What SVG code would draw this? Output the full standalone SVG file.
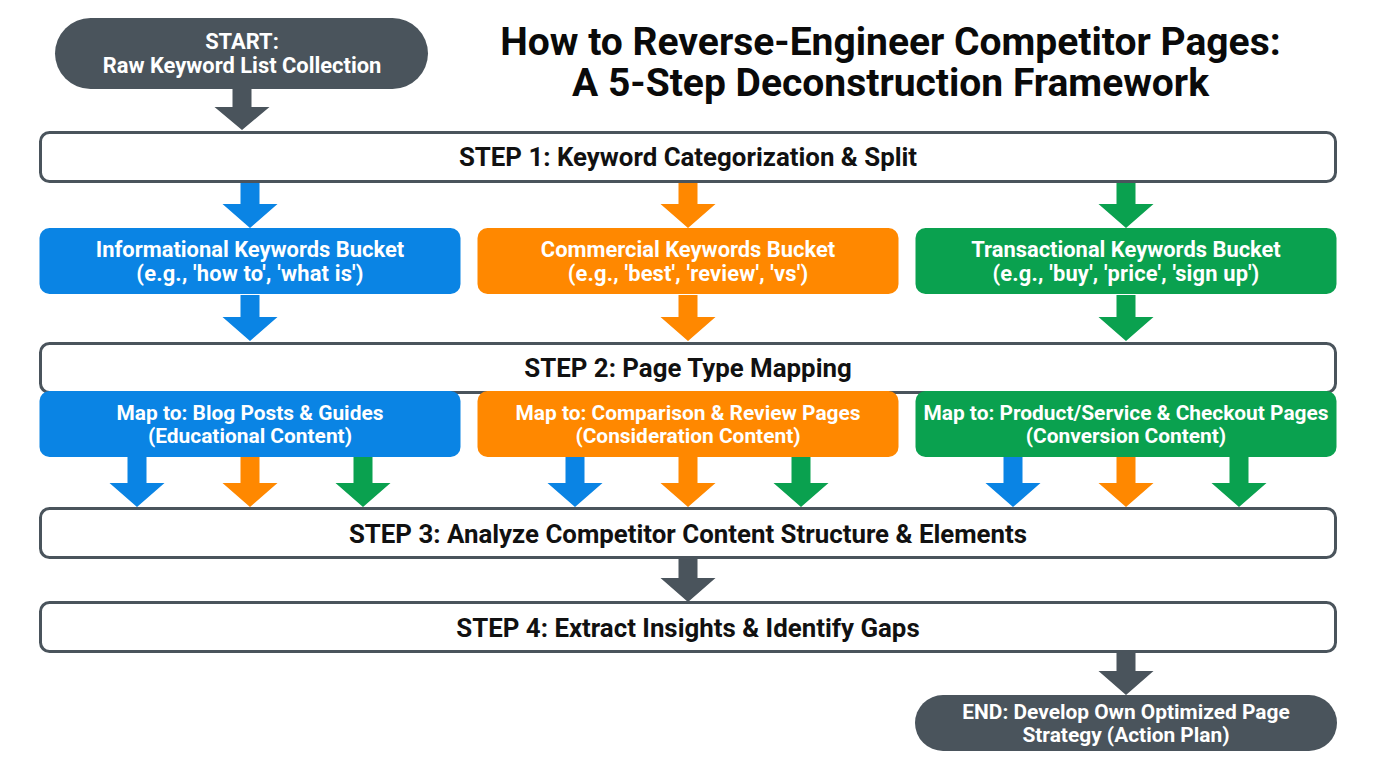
<svg xmlns="http://www.w3.org/2000/svg" width="1376" height="768" viewBox="0 0 1376 768">
<style>
text{font-family:Roboto,"Liberation Sans",sans-serif;text-anchor:middle}
.t{font-size:39px;font-weight:700;fill:#0a0a0a}
.s{font-size:25.850px;font-weight:700;fill:#111}
.w{font-size:21.900px;font-weight:700;fill:#fff}
.q{letter-spacing:.17px}
.m{font-size:20.900px;font-weight:700;fill:#fff}
.step{fill:#fff;stroke:#4a545c;stroke-width:3}
.d{fill:#4a545c}.b{fill:#0a84e4}.o{fill:#ff8800}.g{fill:#0aa14f}
</style>
<defs>
<path id="a46" d="M-9.500 0H9.500V22H27.500L0 46L-27.500 22H-9.500Z"/>
<path id="a42" d="M-9.500 0H9.500V19H27.500L0 42L-27.500 19H-9.500Z"/>
<path id="a50" d="M-9.500 0H9.500V26H27.500L0 50L-27.500 26H-9.500Z"/>
</defs>
<rect width="1376" height="768" fill="#fff"/>
<g id="title"><text class="t" x="890.500" y="55">How to Reverse-Engineer Competitor Pages:</text><text class="t" x="890.500" y="96">A 5-Step Deconstruction Framework</text></g>
<g id="connectors">
<use href="#a42" x="242" y="88" class="d"/>
<use href="#a46" x="250" y="182" class="b"/><use href="#a46" x="688" y="182" class="o"/><use href="#a46" x="1126" y="182" class="g"/>
<use href="#a46" x="250" y="295" class="b"/><use href="#a46" x="688" y="295" class="o"/><use href="#a46" x="1126" y="295" class="g"/>
<use href="#a50" x="137" y="457" class="b"/><use href="#a50" x="250" y="457" class="o"/><use href="#a50" x="363" y="457" class="g"/>
<use href="#a50" x="575" y="457" class="b"/><use href="#a50" x="688" y="457" class="o"/><use href="#a50" x="801" y="457" class="g"/>
<use href="#a50" x="1013" y="457" class="b"/><use href="#a50" x="1126" y="457" class="o"/><use href="#a50" x="1239" y="457" class="g"/>
<use href="#a46" x="688" y="556" class="d"/>
<use href="#a46" x="1126" y="649" class="d"/>
</g>
<g id="start"><rect class="d" x="55" y="18" width="373" height="71" rx="35.500"/><text class="w" x="242" y="49">START:</text><text class="w" x="242" y="73">Raw Keyword List Collection</text></g>
<g id="step1"><rect class="step" x="40.500" y="132.500" width="1295" height="49" rx="9"/><text class="s" x="688" y="166">STEP 1: Keyword Categorization &amp; Split</text></g>
<g id="info"><rect class="b" x="39.500" y="228" width="421" height="66" rx="10"/><text class="w" x="250" y="257">Informational Keywords Bucket</text><text class="w q" x="250" y="281">(e.g., 'how to', 'what is')</text></g>
<g id="comm"><rect class="o" x="477.500" y="228" width="421" height="66" rx="10"/><text class="w" x="688" y="257">Commercial Keywords Bucket</text><text class="w q" x="688" y="281">(e.g., 'best', 'review', 'vs')</text></g>
<g id="trans"><rect class="g" x="915.500" y="228" width="421" height="66" rx="10"/><text class="w" x="1126" y="257">Transactional Keywords Bucket</text><text class="w q" x="1126" y="281">(e.g., 'buy', 'price', 'sign up')</text></g>
<g id="step2"><rect class="step" x="40.500" y="343.500" width="1295" height="49" rx="9"/><text class="s" x="688" y="377">STEP 2: Page Type Mapping</text></g>
<g id="map-blog"><rect class="b" x="39.500" y="391" width="421" height="66" rx="10"/><text class="m" x="250" y="420">Map to: Blog Posts &amp; Guides</text><text class="m" x="250" y="443">(Educational Content)</text></g>
<g id="map-comp"><rect class="o" x="477.500" y="391" width="421" height="66" rx="10"/><text class="m" x="688" y="420">Map to: Comparison &amp; Review Pages</text><text class="m" x="688" y="443">(Consideration Content)</text></g>
<g id="map-prod"><rect class="g" x="915.500" y="391" width="421" height="66" rx="10"/><text class="m" x="1126" y="420">Map to: Product/Service &amp; Checkout Pages</text><text class="m" x="1126" y="443">(Conversion Content)</text></g>
<g id="step3"><rect class="step" x="40.500" y="508.500" width="1295" height="49" rx="9"/><text class="s" x="688" y="543">STEP 3: Analyze Competitor Content Structure &amp; Elements</text></g>
<g id="step4"><rect class="step" x="40.500" y="602.500" width="1295" height="49" rx="9"/><text class="s" x="688" y="636.500">STEP 4: Extract Insights &amp; Identify Gaps</text></g>
<g id="end"><rect class="d" x="915" y="695" width="422" height="56" rx="28"/><text class="m" x="1126" y="719">END: Develop Own Optimized Page</text><text class="m" x="1126" y="742">Strategy (Action Plan)</text></g>
</svg>
